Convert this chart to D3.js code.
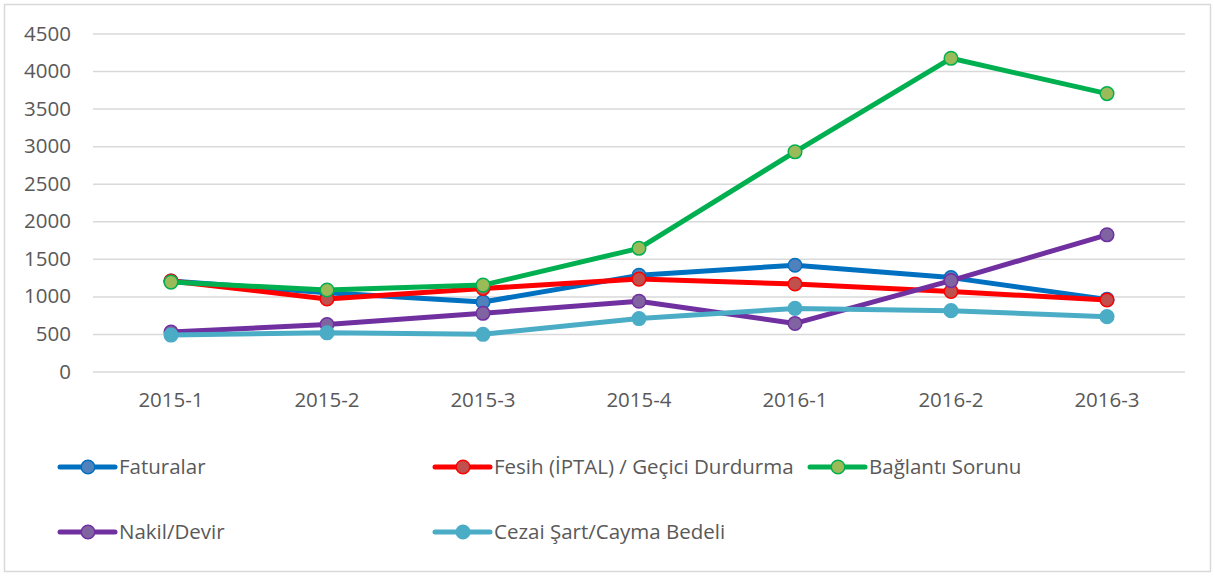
<!DOCTYPE html>
<html>
<head>
<meta charset="utf-8">
<script src="https://cdn.jsdelivr.net/npm/d3@7"></script>
<style>
  body { margin: 0; background: #fff; }
  svg text { font-family: "Open Sans", "Liberation Sans", sans-serif; fill: #595959; }
</style>
</head>
<body>
<div id="chart"></div>
<script>
var width = 1215,
  height = 576;

// data
var periods = ["2015-1", "2015-2", "2015-3", "2015-4", "2016-1", "2016-2", "2016-3"];
var faturalar = [1205, 1050, 925, 1280, 1415, 1250, 960];
var fesih = [1205, 965, 1105, 1230, 1165, 1065, 952];
var baglanti = [1190, 1085, 1150, 1640, 2925, 4170, 3700];
var nakil = [525, 625, 775, 935, 640, 1210, 1820];
var cezai = [485, 515, 495, 705, 840, 810, 730];
var yTicks = [0, 500, 1000, 1500, 2000, 2500, 3000, 3500, 4000, 4500];

var series = [
  { name: "Faturalar", values: faturalar, line: "#0070c0", fill: "#4f81bd", stroke: "#0070c0" },
  { name: "Fesih (İPTAL) / Geçici Durdurma", values: fesih, line: "#ff0000", fill: "#c0504d", stroke: "#ff0000" },
  { name: "Bağlantı Sorunu", values: baglanti, line: "#00b050", fill: "#9bbb59", stroke: "#00b050" },
  { name: "Nakil/Devir", values: nakil, line: "#7030a0", fill: "#8064a2", stroke: "#7030a0" },
  { name: "Cezai Şart/Cayma Bedeli", values: cezai, line: "#4bacc6", fill: "#4bacc6", stroke: "#4bacc6" }
];

var margin = { left: 93, right: 30, top: 33.5, bottom: 204.5 };

var svg = d3.select("#chart").append("svg")
  .attr("width", width)
  .attr("height", height);

//chart border
svg.append("rect")
  .attr("x", 4.5).attr("y", 4.5)
  .attr("width", width - 9).attr("height", height - 9)
  .attr("fill", "none")
  .attr("stroke", "#d9d9d9")
  .attr("stroke-width", 1.5);

var x = d3.scaleBand()
  .domain(periods)
  .range([margin.left, width - margin.right]);

var y = d3.scaleLinear()
  .domain([0, 4500])
  .range([height - margin.bottom, margin.top]);

//gridlines + y labels
var yAxis = svg.append("g")
  .attr("transform", "translate(" + margin.left + ",0)")
  .call(d3.axisLeft(y).tickValues(yTicks).tickFormat(d3.format("d"))
    .tickSize(-(width - margin.left - margin.right)).tickPadding(22));
yAxis.select(".domain").remove();
yAxis.selectAll(".tick line").attr("stroke", "#d9d9d9").attr("stroke-width", 1.5);
yAxis.selectAll(".tick text").style("font-size", "20.5px").attr("fill", "#595959");

//x labels
var xAxis = svg.append("g")
  .attr("transform", "translate(0," + y(0) + ")")
  .call(d3.axisBottom(x).tickSize(0).tickPadding(21));
xAxis.select(".domain").remove();
xAxis.selectAll(".tick text").style("font-size", "20.5px").attr("fill", "#595959");

var line = d3.line()
  .x(function(d, i) { return x(periods[i]) + x.bandwidth() / 2; })
  .y(function(d) { return y(d); });

series.forEach(function(s) {
  var g = svg.append("g");
  g.append("path")
    .attr("d", line(s.values))
    .attr("fill", "none")
    .attr("stroke", s.line)
    .attr("stroke-width", 5)
    .attr("stroke-linejoin", "round");
  g.selectAll("circle")
    .data(s.values)
    .enter().append("circle")
    .attr("cx", function(d, i) { return x(periods[i]) + x.bandwidth() / 2; })
    .attr("cy", function(d) { return y(d); })
    .attr("r", 6.8)
    .attr("fill", s.fill)
    .attr("stroke", s.stroke)
    .attr("stroke-width", 1.5);
});

//legend
var legendPos = [
  { x: 60, y: 467 }, { x: 435, y: 467 }, { x: 810, y: 467 },
  { x: 60, y: 532 }, { x: 435, y: 532 }
];
series.forEach(function(s, i) {
  var p = legendPos[i];
  var lg = svg.append("g").attr("transform", "translate(" + p.x + "," + p.y + ")");
  lg.append("line")
    .attr("x1", 0).attr("x2", 55)
    .attr("stroke", s.line).attr("stroke-width", 5)
    .attr("stroke-linecap", "round");
  lg.append("circle")
    .attr("cx", 28).attr("r", 6.8)
    .attr("fill", s.fill).attr("stroke", s.stroke).attr("stroke-width", 1.5);
  lg.append("text")
    .attr("x", 59).attr("dy", "0.35em")
    .style("font-size", "20.5px")
    .text(s.name);
});
</script>
</body>
</html>
